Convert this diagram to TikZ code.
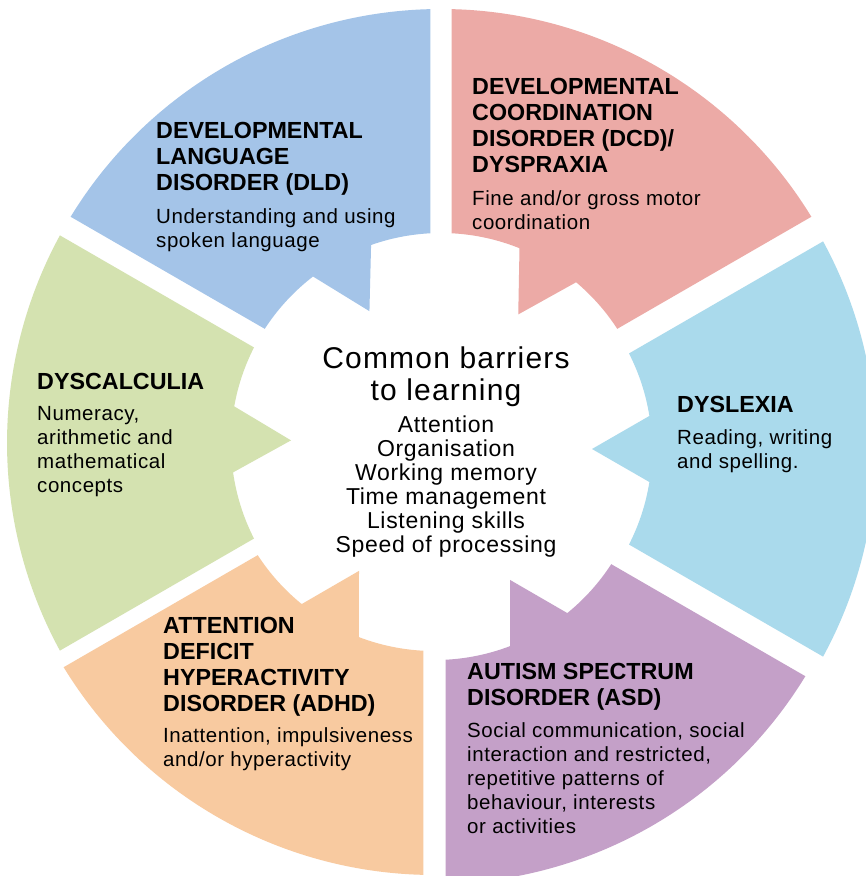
\documentclass[tikz,border=0pt]{standalone}
\usepackage{fontspec}
\setmainfont{Liberation Sans}
\newfontfamily\hdfont{Liberation Sans}
\newfontfamily\bdfont[LetterSpace=2.8]{Liberation Sans}
\newfontfamily\ttlfont[LetterSpace=4]{Liberation Sans}
\newfontfamily\lstfont[LetterSpace=3]{Liberation Sans}
\definecolor{cblue}{RGB}{164,196,232}
\definecolor{cpink}{RGB}{236,170,166}
\definecolor{ccyan}{RGB}{170,218,236}
\definecolor{cpurple}{RGB}{196,160,200}
\definecolor{corange}{RGB}{248,202,160}
\definecolor{cgreen}{RGB}{212,226,176}
% #1 mid angle of segment, #2 angle of inward pointing notch
\newcommand\segshape[2]{({#1-28.581}:434) arc[start angle={#1-28.581}, end angle={#1+28.581}, radius=434]
  -- ({#1+27.066}:210) arc[start angle={#1+27.066}, end angle={#2+9.05}, radius=210]
  -- ({#2}:150) -- ({#2-9.05}:210) arc[start angle={#2-9.05}, end angle={#1-27.066}, radius=210] -- cycle}
\tikzset{
  hd/.style={anchor=north west, inner sep=0pt, align=left, font=\hdfont\bfseries\fontsize{23.3}{26}\selectfont},
  bd/.style={anchor=north west, inner sep=0pt, align=left, font=\bdfont\fontsize{20.5}{24.2}\selectfont},
  ttl/.style={anchor=north, inner sep=0pt, align=center, font=\ttlfont\fontsize{30}{32}\selectfont},
  lst/.style={anchor=north, inner sep=0pt, align=center, font=\lstfont\fontsize{23}{24}\selectfont},
}
\begin{document}
\begin{tikzpicture}[x=1pt,y=1pt]
\useasboundingbox (0,0) rectangle (866,876);
\fill[white] (0,0) rectangle (866,876);
\begin{scope}[shift={(441,433)}]
  \fill[cpink] \segshape{60}{59};
  \fill[cblue] \segshape{120}{118.5};
  \fill[cgreen] \segshape{180}{179};
  \fill[corange, shift={(-7,2)}] \segshape{240}{240};
  \fill[cpurple, shift={(-6,-7)}] \segshape{300}{300};
  \fill[ccyan, shift={(1,-6)}] \segshape{0}{0};
\end{scope}
% DCD
\node[hd] (dcdh) at (472,798) {DEVELOPMENTAL\\COORDINATION\\DISORDER (DCD)/\\DYSPRAXIA};
\node[bd] (dcdb) at (472,686) {Fine and/or gross motor\\coordination};
% DLD
\node[hd] (dldh) at (156,754) {DEVELOPMENTAL\\LANGUAGE\\DISORDER (DLD)};
\node[bd] (dldb) at (156,668) {Understanding and using\\spoken language};
% Dyscalculia
\node[hd] (dysch) at (37,503) {DYSCALCULIA};
\node[bd] (dyscb) at (37,470) {Numeracy,\\arithmetic and\\mathematical\\concepts};
% Dyslexia
\node[hd] (dyslh) at (677,480) {DYSLEXIA};
\node[bd] (dyslb) at (677,447) {Reading, writing\\and spelling.};
% ADHD
\node[hd] (adhdh) at (163,259) {ATTENTION\\DEFICIT\\HYPERACTIVITY\\DISORDER (ADHD)};
\node[bd] (adhdb) at (163,149) {Inattention, impulsiveness\\and/or hyperactivity};
% ASD
\node[hd] (asdh) at (467,213) {AUTISM SPECTRUM\\DISORDER (ASD)};
\node[bd] (asdb) at (467,154) {Social communication, social\\interaction and restricted,\\repetitive patterns of\\behaviour, interests\\or activities};
% Centre
\node[ttl] (title) at (446,529.5) {Common barriers\\to learning};
\node[lst] (list) at (446,460.4) {Attention\\Organisation\\Working memory\\Time management\\Listening skills\\Speed of processing};
\end{tikzpicture}
\end{document}
